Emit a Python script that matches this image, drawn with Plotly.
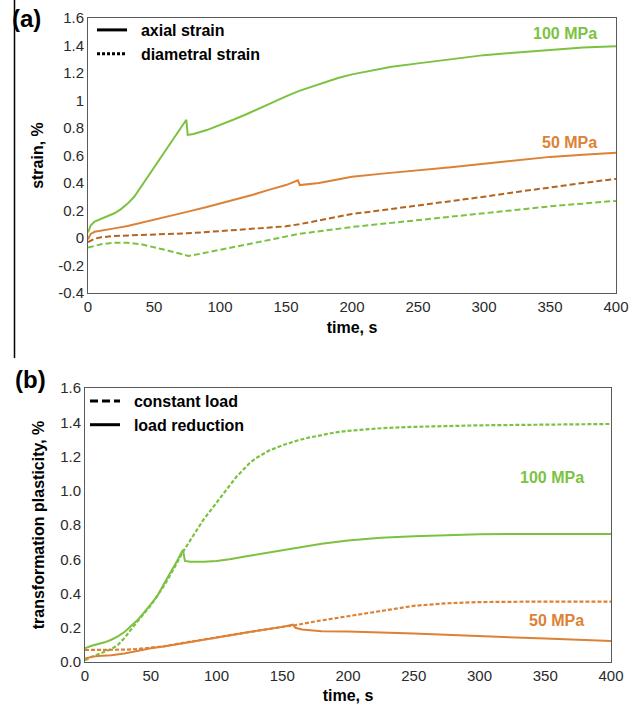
import plotly.graph_objects as go

# ---------------- Panel (a): strain vs time ----------------
t_ax100 = [0, 2, 5, 10, 15, 20, 25, 30, 35, 40, 45, 50, 55, 60, 65, 70, 74.5, 75.5, 80, 90, 100, 110,
           120, 130, 140, 150, 160, 175, 190, 200, 215, 230, 250, 275, 300, 325, 350, 375, 400]
v_ax100 = [0.04, 0.09, 0.12, 0.14, 0.16, 0.18, 0.21, 0.25, 0.30, 0.37, 0.44, 0.51, 0.58, 0.65, 0.72, 0.79, 0.86, 0.75,
           0.757, 0.785, 0.82, 0.86, 0.90, 0.945, 0.99, 1.03, 1.07, 1.12, 1.165, 1.19, 1.22, 1.245, 1.27, 1.30,
           1.33, 1.35, 1.37, 1.385, 1.395]

t_ax50 = [0, 2, 5, 10, 15, 20, 30, 40, 50, 60, 75, 90, 100, 112, 125, 137, 150, 159, 160.5, 175, 200, 225,
          250, 275, 300, 325, 350, 375, 400]
v_ax50 = [-0.01, 0.03, 0.045, 0.055, 0.063, 0.07, 0.088, 0.11, 0.13, 0.155, 0.19, 0.225, 0.25, 0.28, 0.315,
          0.35, 0.385, 0.42, 0.385, 0.40, 0.445, 0.47, 0.49, 0.515, 0.54, 0.565, 0.59, 0.605, 0.62]

t_di50 = [0, 5, 10, 20, 40, 60, 75, 100, 125, 150, 160, 175, 200, 225, 250, 275, 300, 325, 350, 375, 400]
v_di50 = [-0.03, -0.005, 0.005, 0.015, 0.022, 0.028, 0.034, 0.05, 0.065, 0.085, 0.10, 0.13, 0.175, 0.205,
          0.235, 0.265, 0.30, 0.335, 0.37, 0.40, 0.43]

t_di100 = [0, 5, 10, 20, 25, 30, 40, 50, 60, 70, 76, 85, 100, 115, 130, 145, 160, 180, 200, 225, 250, 275,
           300, 325, 350, 375, 400]
v_di100 = [-0.07, -0.055, -0.045, -0.035, -0.033, -0.035, -0.045, -0.065, -0.09, -0.115, -0.13, -0.115,
           -0.085, -0.055, -0.025, 0.0, 0.03, 0.055, 0.08, 0.105, 0.13, 0.16, 0.185, 0.21, 0.23, 0.25, 0.27]

# ---------------- Panel (b): transformation plasticity vs time ----------------
t_cl100 = [0, 5, 10, 15, 20, 25, 30, 35, 40, 45, 50, 55, 60, 65, 70, 75, 80, 85, 90, 95, 100, 105, 110, 115,
           120, 125, 130, 140, 150, 160, 170, 180, 190, 200, 225, 250, 300, 350, 400]
v_cl100 = [0.01, 0.03, 0.045, 0.06, 0.075, 0.10, 0.14, 0.19, 0.24, 0.285, 0.33, 0.385, 0.445, 0.51, 0.58,
           0.65, 0.71, 0.77, 0.83, 0.88, 0.93, 0.98, 1.03, 1.08, 1.12, 1.16, 1.19, 1.235, 1.265, 1.29, 1.31,
           1.325, 1.34, 1.35, 1.365, 1.373, 1.382, 1.386, 1.39]

t_lr100 = [0, 5, 10, 15, 20, 25, 30, 35, 40, 45, 50, 55, 60, 65, 70, 74.5, 76, 80, 90, 100, 110, 125, 140,
           160, 180, 200, 225, 250, 275, 300, 350, 400]
v_lr100 = [0.08, 0.095, 0.105, 0.115, 0.13, 0.15, 0.175, 0.21, 0.245, 0.29, 0.335, 0.385, 0.455, 0.52, 0.59,
           0.655, 0.59, 0.585, 0.585, 0.59, 0.60, 0.62, 0.64, 0.665, 0.69, 0.71, 0.725, 0.735, 0.742, 0.746,
           0.748, 0.748]

t_cl50 = [0, 10, 20, 30, 40, 50, 60, 75, 100, 125, 150, 160, 175, 200, 225, 250, 275, 300, 350, 400]
v_cl50 = [0.07, 0.07, 0.07, 0.072, 0.076, 0.082, 0.092, 0.112, 0.145, 0.175, 0.205, 0.215, 0.237, 0.268,
          0.30, 0.328, 0.343, 0.35, 0.353, 0.353]

t_lr50 = [0, 5, 10, 20, 30, 40, 50, 60, 75, 100, 125, 150, 158, 160, 165, 180, 200, 250, 300, 350, 400]
v_lr50 = [0.02, 0.03, 0.035, 0.04, 0.05, 0.065, 0.08, 0.09, 0.11, 0.145, 0.175, 0.205, 0.218, 0.20, 0.19,
          0.18, 0.178, 0.166, 0.15, 0.137, 0.123]

# tick labels
x_ticks = [0, 50, 100, 150, 200, 250, 300, 350, 400]
ya_vals = [-0.4, -0.2, 0, 0.2, 0.4, 0.6, 0.8, 1.0, 1.2, 1.4, 1.6]
ya_text = ["-0.4", "-0.2", "0", "0.2", "0.4", "0.6", "0.8", "1", "1.2", "1.4", "1.6"]
yb_vals = [0, 0.2, 0.4, 0.6, 0.8, 1.0, 1.2, 1.4, 1.6]
yb_text = ["0.0", "0.2", "0.4", "0.6", "0.8", "1.0", "1.2", "1.4", "1.6"]

GREEN = "#7cc242"
ORANGE = "#dc8236"
DORANGE = "#b5641f"
FONT = "Liberation Sans, Arial, sans-serif"
W, H = 637, 706
SP = "\u00a0\u00a0"

fig = go.Figure()

def line(x, y, color, dash, xa, ya, width=2):
    fig.add_trace(go.Scatter(x=x, y=y, mode="lines", xaxis=xa, yaxis=ya, showlegend=False,
                             line=dict(color=color, width=width, dash=dash)))

line(t_ax100, v_ax100, GREEN, "solid", "x", "y")
line(t_ax50, v_ax50, ORANGE, "solid", "x", "y")
line(t_di50, v_di50, DORANGE, "6px,3px", "x", "y")
line(t_di100, v_di100, GREEN, "6px,3px", "x", "y")

line(t_cl100, v_cl100, GREEN, "4px,2px", "x2", "y2", 2.2)
line(t_lr100, v_lr100, GREEN, "solid", "x2", "y2")
line(t_cl50, v_cl50, ORANGE, "4px,2px", "x2", "y2", 2.2)
line(t_lr50, v_lr50, ORANGE, "solid", "x2", "y2")

# legend entries (black samples)
fig.add_trace(go.Scatter(x=[None], y=[None], mode="lines", name=SP + "<b>axial strain</b>", legend="legend",
                         line=dict(color="black", width=3)))
fig.add_trace(go.Scatter(x=[None], y=[None], mode="lines", name=SP + "<b>diametral strain</b>", legend="legend",
                         line=dict(color="black", width=3, dash="3px,2px")))
fig.add_trace(go.Scatter(x=[None], y=[None], mode="lines", name=SP + "<b>constant load</b>", legend="legend2",
                         xaxis="x2", yaxis="y2", line=dict(color="black", width=3, dash="8px,4px")))
fig.add_trace(go.Scatter(x=[None], y=[None], mode="lines", name=SP + "<b>load reduction</b>", legend="legend2",
                         xaxis="x2", yaxis="y2", line=dict(color="black", width=3)))

def px_x(p):
    return p / W

def px_y(p):
    return 1 - p / H

axis_common = dict(showline=True, mirror=True, linecolor="#5a5a5a", linewidth=1, showgrid=False,
                   zeroline=False, ticks="", automargin=False,
                   tickfont=dict(family=FONT, size=15, color="#2a2a2a"))
title_font = dict(size=16, family=FONT, color="black")

fig.update_layout(
    template="none",
    width=W, height=H, margin=dict(l=0, r=0, t=0, b=0, autoexpand=False),
    paper_bgcolor="white", plot_bgcolor="white",
    font=dict(family=FONT, color="black"),
    xaxis=dict(domain=[px_x(88), px_x(616)], range=[0, 400], tickvals=x_ticks, anchor="y",
               title=dict(text="<b>time, s</b>", font=title_font, standoff=7), **axis_common),
    yaxis=dict(domain=[px_y(293), px_y(18)], range=[-0.4, 1.6], tickvals=ya_vals, ticktext=ya_text,
               anchor="x", title=dict(text="<b>strain, %</b>", font=title_font, standoff=10), **axis_common),
    xaxis2=dict(domain=[px_x(85), px_x(611)], range=[0, 400], tickvals=x_ticks, anchor="y2",
                title=dict(text="<b>time, s</b>", font=title_font, standoff=6), **axis_common),
    yaxis2=dict(domain=[px_y(662), px_y(388)], range=[0, 1.6], tickvals=yb_vals, ticktext=yb_text,
                anchor="x2", title=dict(text="<b>transformation plasticity, %</b>", font=title_font, standoff=11),
                **axis_common),
    legend=dict(x=px_x(92), y=px_y(13), xanchor="left", yanchor="top", bgcolor="rgba(0,0,0,0)",
                borderwidth=0, font=dict(size=16, family=FONT, color="black"), itemwidth=30, tracegroupgap=0),
    legend2=dict(x=px_x(85), y=px_y(384), xanchor="left", yanchor="top", bgcolor="rgba(0,0,0,0)",
                 borderwidth=0, font=dict(size=16, family=FONT, color="black"), itemwidth=30, tracegroupgap=0),
    shapes=[dict(type="line", xref="paper", yref="paper", x0=px_x(14.5), x1=px_x(14.5),
                 y0=px_y(358), y1=1, line=dict(color="black", width=1.5))],
)

ann = [
    dict(text="<b>(a)</b>", xref="paper", yref="paper", x=px_x(10), y=px_y(19), xanchor="left",
         yanchor="middle", showarrow=False, font=dict(size=24, family=FONT)),
    dict(text="<b>(b)</b>", xref="paper", yref="paper", x=px_x(13), y=px_y(380), xanchor="left",
         yanchor="middle", showarrow=False, font=dict(size=24, family=FONT)),
    dict(text="<b>100 MPa</b>", xref="x", yref="y", x=387, y=1.487, xanchor="right", yanchor="middle",
         showarrow=False, font=dict(size=16, color=GREEN, family=FONT)),
    dict(text="<b>50 MPa</b>", xref="x", yref="y", x=387, y=0.695, xanchor="right", yanchor="middle",
         showarrow=False, font=dict(size=16, color=ORANGE, family=FONT)),
    dict(text="<b>100 MPa</b>", xref="x2", yref="y2", x=381, y=1.076, xanchor="right", yanchor="middle",
         showarrow=False, font=dict(size=16, color=GREEN, family=FONT)),
    dict(text="<b>50 MPa</b>", xref="x2", yref="y2", x=381, y=0.243, xanchor="right", yanchor="middle",
         showarrow=False, font=dict(size=16, color=ORANGE, family=FONT)),
]
fig.update_layout(annotations=ann)

fig.write_html("out.html", config={"displayModeBar": False},
               post_script="document.body.style.margin='0';document.body.style.overflow='hidden';")
